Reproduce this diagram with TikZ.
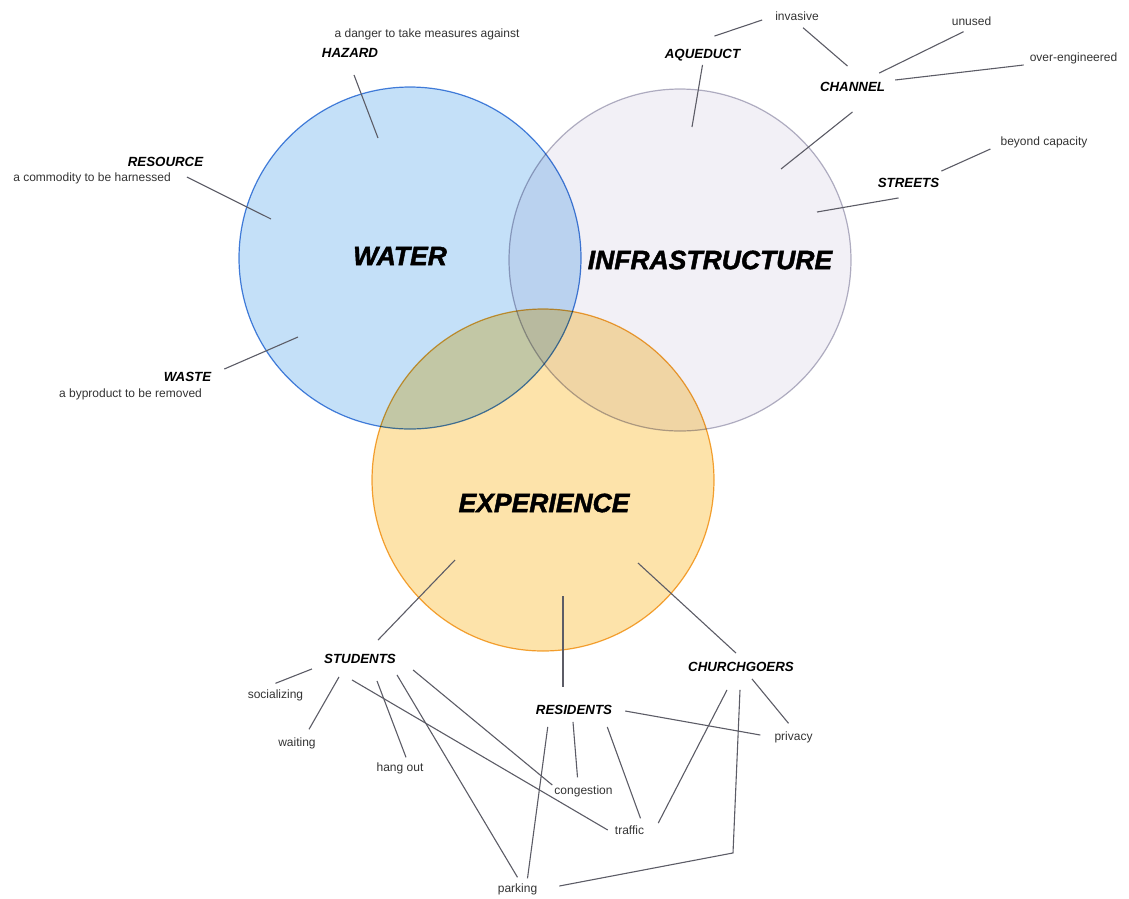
\documentclass[tikz,border=0pt]{standalone}
\usepackage{fontspec}
\setmainfont{Liberation Sans}
\newfontfamily\heavyfont[FakeBold=1.6]{Liberation Sans}
\usepackage{xcolor}
\definecolor{waterFill}{HTML}{C4E0F8}
\definecolor{waterLine}{HTML}{4A84DC}
\definecolor{infraFill}{HTML}{F2F0F6}
\definecolor{infraLine}{HTML}{B4B2C4}
\definecolor{expFill}{HTML}{FDE3AA}
\definecolor{expLine}{HTML}{F4A93A}
\definecolor{linegray}{HTML}{5C5C66}
\definecolor{notegray}{HTML}{333333}
\tikzset{%
  % Specifications for style of nodes:
      disc/.style = {circle, minimum size=342pt, inner sep=0pt, line width=1.2pt},
     topic/.style = {font=\heavyfont\fontsize{26.5}{30}\selectfont\bfseries\itshape},
     facet/.style = {font=\fontsize{13.3}{15}\selectfont\bfseries\itshape,
                     inner sep=2pt, text height=9.5pt, text depth=0pt},
      note/.style = {font=\fontsize{12}{14}\selectfont, text=notegray,
                     inner sep=2pt, text height=8.5pt, text depth=2.5pt},
      link/.style = {draw=linegray, line width=1.1pt},
}

\begin{document}
\begin{tikzpicture}[x=1pt, y=-1pt]
  \useasboundingbox (0,0) rectangle (1129,898);

  % The three overlapping circles
  \begin{scope}[blend group=multiply]
    \node (waterDisc) [disc, fill=waterFill, draw=waterLine] at (410,258) {};
    \node (infraDisc) [disc, fill=infraFill, draw=infraLine] at (680,260) {};
    \node (expDisc)   [disc, fill=expFill,   draw=expLine]   at (543,480) {};
  \end{scope}

  \node (water)      [topic] at (400,256) {WATER};
  \node (infra)      [topic] at (710,260) {INFRASTRUCTURE};
  \node (experience) [topic] at (544,503) {EXPERIENCE};

  % Free ends of the lines inside the circles
  \coordinate (cHaz)    at (378,138);
  \coordinate (cRes)    at (271,219);
  \coordinate (cWaste)  at (298,337);
  \coordinate (cAque)   at (692,127);
  \coordinate (cChan)   at (781,169);
  \coordinate (cStreet) at (817,212);
  \coordinate (cStu)    at (455,560);
  \coordinate (cResid)  at (563,596);
  \coordinate (cChurch) at (638,563);

  % Labels round WATER
  \node (hazard)       [facet] at (350,53)    {HAZARD};
  \node (hazardNote)   [note]  at (427,34)    {a danger to take measures against};
  \node (resource)     [facet] at (165.5,162) {RESOURCE};
  \node (resourceNote) [note]  at (92,178)    {a commodity to be harnessed};
  \node (waste)        [facet] at (187.5,377) {WASTE};
  \node (wasteNote)    [note]  at (130.5,394) {a byproduct to be removed};

  % Labels round INFRASTRUCTURE
  \node (aqueduct) [facet] at (702.5,54)  {AQUEDUCT};
  \node (invasive) [note]  at (797,17)    {invasive};
  \node (channel)  [facet] at (852.5,87)  {CHANNEL};
  \node (unused)   [note]  at (971.5,22)  {unused};
  \node (overEng)  [note]  at (1073.5,58) {over-engineered};
  \node (streets)  [facet] at (908.5,183) {STREETS};
  \node (beyond)   [note]  at (1044,142)  {beyond capacity};

  % Labels below EXPERIENCE
  \node (students)    [facet] at (360,659)   {STUDENTS};
  \node (residents)   [facet] at (574,710)   {RESIDENTS};
  \node (churchgoers) [facet] at (741,667)   {CHURCHGOERS};
  \node (socializing) [note]  at (275.5,695) {socializing};
  \node (waiting)     [note]  at (297,743)   {waiting};
  \node (hangOut)     [note]  at (400,768)   {hang out};
  \node (congestion)  [note]  at (583.5,791) {congestion};
  \node (traffic)     [note]  at (629.5,831) {traffic};
  \node (parking)     [note]  at (517.5,889) {parking};
  \node (privacy)     [note]  at (793.5,737) {privacy};

  % Lines at the top
  \draw[link] ([shift={(4,15)}]hazard.south) -- (cHaz);
  \draw[link] ([shift={(14,-1)}]resourceNote.east) -- (cRes);
  \draw[link] ([shift={(11,-8)}]waste.east) -- (cWaste);
  \draw[link] ([shift={(0,4)}]aqueduct.south) -- (cAque);
  \draw[link] ([shift={(12,-11)}]aqueduct.north) -- ([shift={(-11,3)}]invasive.west);
  \draw[link] ([shift={(6,3)}]invasive.south) -- ([shift={(-5,-14)}]channel.north);
  \draw[link] ([shift={(-8,2)}]unused.south) -- ([shift={(-8,-7)}]channel.north east);
  \draw[link] ([shift={(-4,7)}]overEng.west) -- ([shift={(8,-7)}]channel.east);
  \draw[link] ([shift={(0,18)}]channel.south) -- (cChan);
  \draw[link] ([shift={(-8,7)}]beyond.west) -- ([shift={(0,-5)}]streets.north east);
  \draw[link] ([shift={(-10,8)}]streets.south) -- (cStreet);

  % Lines at the bottom
  \draw[link] (cStu) -- ([shift={(18,-12)}]students.north);
  \draw[link] (cResid) -- ([shift={(-11,-16)}]residents.north);
  \draw[link] (cChurch) -- ([shift={(-5,-7)}]churchgoers.north);
  \draw[link] ([shift={(0,-4)}]socializing.north) -- ([shift={(-10,3)}]students.south west);
  \draw[link] ([shift={(12,-6)}]waiting.north) -- ([shift={(-21,11)}]students.south);
  \draw[link] ([shift={(6,-3)}]hangOut.north) -- ([shift={(17,15)}]students.south);
  \draw[link] ([shift={(-8,14)}]students.south) -- ([shift={(-5,-1)}]traffic.west);
  \draw[link] ([shift={(37,9)}]students.south) -- ([shift={(0,-4)}]parking.north);
  \draw[link] ([shift={(15,4)}]students.south east) -- ([shift={(0,-6)}]congestion.west);
  \draw[link] ([shift={(11,1)}]residents.east) -- ([shift={(-12,-2)}]privacy.west);
  \draw[link] ([shift={(-1,5)}]residents.south) -- ([shift={(-6,-6)}]congestion.north);
  \draw[link] ([shift={(-7,10)}]residents.south east) -- ([shift={(11,-5)}]traffic.north);
  \draw[link] ([shift={(14,10)}]residents.south west) -- ([shift={(10,-3)}]parking.north);
  \draw[link] ([shift={(11,5)}]churchgoers.south) -- ([shift={(-5,-6)}]privacy.north);
  \draw[link] ([shift={(-14,16)}]churchgoers.south) -- ([shift={(12,-8)}]traffic.east);
  \draw[link] ([shift={(-1,16)}]churchgoers.south) -- ++(-7,163)
              -- ([shift={(20,-3)}]parking.east);
\end{tikzpicture}
\end{document}
